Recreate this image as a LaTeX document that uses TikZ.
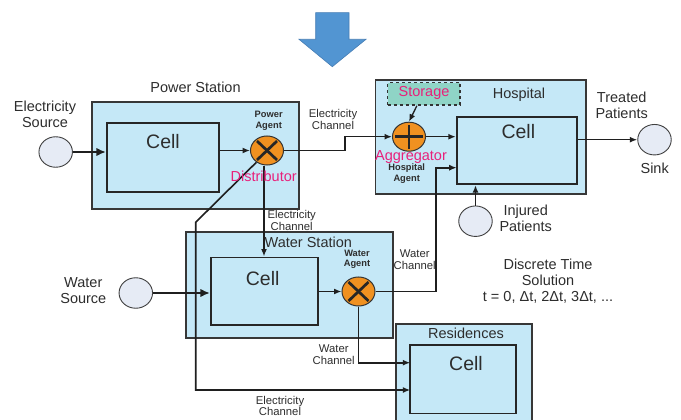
\documentclass[tikz,border=0pt]{standalone}
\usepackage{fontspec}
\setmainfont{Liberation Sans}
\usetikzlibrary{shapes.geometric,arrows.meta,calc}
\definecolor{boxblue}{RGB}{197,232,247}
\definecolor{srcfill}{RGB}{230,235,245}
\definecolor{agorange}{RGB}{240,145,32}
\definecolor{pinktxt}{RGB}{232,32,122}
\definecolor{teal}{RGB}{143,212,198}
\definecolor{arrowblue}{RGB}{82,149,210}
\definecolor{arrowedge}{RGB}{70,125,180}
\definecolor{txt}{RGB}{45,45,45}
\definecolor{edge}{RGB}{55,55,55}
\begin{document}
\begin{tikzpicture}[x=1pt,y=-1pt,
  outerbox/.style={draw=edge,fill=boxblue,line width=1.7pt,inner sep=0,rectangle},
  cellbox/.style={draw=black!85,fill=boxblue,line width=1.7pt,inner sep=0,rectangle},
  srcnode/.style={ellipse,draw=black!75,fill=srcfill,line width=0.9pt,inner sep=0,minimum width=33.5pt,minimum height=30.5pt},
  agentnode/.style={ellipse,draw=black!80,fill=agorange,line width=1pt,inner sep=0,minimum width=33pt,minimum height=29pt},
  xagent/.style={agentnode,path picture={
     \draw[line width=2.7pt,black!85] ([shift={(-10pt,-9.5pt)}]path picture bounding box.center) -- ([shift={(10pt,9.5pt)}]path picture bounding box.center);
     \draw[line width=2.7pt,black!85] ([shift={(-10pt,9.5pt)}]path picture bounding box.center) -- ([shift={(10pt,-9.5pt)}]path picture bounding box.center);}},
  plusagent/.style={agentnode,path picture={
     \draw[line width=2.7pt,black!85] ([shift={(-14pt,0pt)}]path picture bounding box.center) -- ([shift={(14pt,0pt)}]path picture bounding box.center);
     \draw[line width=2.7pt,black!85] ([shift={(0pt,-12pt)}]path picture bounding box.center) -- ([shift={(0pt,12pt)}]path picture bounding box.center);}},
  arr/.style={draw=black!88,line width=1.6pt,-{Latex[length=7.5pt,width=6pt]}},
  bigarr/.style={draw=black!88,line width=2.2pt,-{Latex[length=9.5pt,width=8.5pt]}},
  lbl/.style={font=\fontsize{14.5}{16}\selectfont,text=txt,align=center,inner sep=0},
  celllbl/.style={font=\fontsize{19.5}{22}\selectfont,text=txt,inner sep=0},
  chlbl/.style={font=\fontsize{11.3}{11.7}\selectfont,text=txt,align=center,inner sep=0},
  aglbl/.style={font=\fontsize{9.3}{10.5}\selectfont\bfseries,text=txt,align=center,inner sep=0},
  pinklbl/.style={font=\fontsize{14.5}{16}\selectfont,text=pinktxt,inner sep=0}
]
\path[use as bounding box] (0,0) rectangle (681,420);
\clip (0,0) rectangle (681,420);

% big blue arrow
\draw[fill=arrowblue,draw=arrowedge,line width=0.6pt,line join=miter]
  (315.7,12.7) -- (349,12.7) -- (349,39.3) -- (366,39.3) -- (332.3,66.7)
  -- (299,39.3) -- (315.7,39.3) -- cycle;

% boxes
\node[outerbox,minimum width=206.4pt,minimum height=106.4pt] (ps) at (195.5,155.5) {};
\node[cellbox,minimum width=112.3pt,minimum height=69pt] (pc) at (162.9,157.8) {};
\node[outerbox,minimum width=210.9pt,minimum height=114.2pt] (hs) at (480.8,137.1) {};
\node[cellbox,minimum width=120.6pt,minimum height=67.6pt] (hc) at (517,150.5) {};
\node[draw=black!80,dashed,line width=1.3pt,fill=teal,inner sep=0,minimum width=72.3pt,minimum height=22.3pt] (st) at (423.9,93.9) {};
\node[outerbox,minimum width=207pt,minimum height=106.6pt] (wst) at (289.5,285) {};
\node[cellbox,minimum width=107.3pt,minimum height=67.7pt] (wc) at (264.4,291.2) {};
\node[outerbox,minimum width=135.4pt,minimum height=110pt] (rs) at (464,379) {};
\node[cellbox,minimum width=105.4pt,minimum height=68.3pt] (rc) at (463,379.2) {};

% sources, sink
\node[srcnode] (es) at (55.7,152) {};
\node[srcnode] (ws) at (135.8,293) {};
\node[srcnode] (sk) at (654.5,139.7) {};
\node[srcnode] (ip) at (475.5,221.2) {};

% agents
\node[xagent] (pa) at (267,150.5) {};
\node[plusagent] (ag) at (409,136.7) {};
\node[xagent] (wa) at (358.5,291.5) {};

% helper coordinates
\coordinate (bend) at (195.7,222.3);
\coordinate (r1) at (410.3,362.7);
\coordinate (r2) at (410.3,390);
\coordinate (h2) at (456.7,167.7);

% connectors
\draw[bigarr] (es.east) -- (es.east -| pc.west);
\draw[arr] (pc.east |- pa) -- (pa.west);
\draw[arr] (pa.east) -- ++(61,0) |- (ag.west);
\draw[arr,line width=1.3pt] ([xshift=-7pt]st.south) -- (ag.north);
\draw[arr] (ag.east) -- (ag.east -| hc.west);
\draw[arr] (hc.east |- sk) -- (sk.west);
\draw[arr] (ip.north) -- (ip.north |- hc.south);
\draw[arr] ([xshift=-3pt]pa.south) -- ([xshift=-3pt]pa.south |- wc.north);
\draw[arr] (pa.228) -- (bend) |- (r2);
\draw[bigarr] (ws.east) -- (ws.east -| wc.west);
\draw[arr] (wc.east |- wa) -- (wa.west);
\draw[arr] (wa.east) -| ($(h2)+(-20.7,0)$) -- (h2);
\draw[arr] (wa.south) |- (r1);

% labels
\node[lbl] (lps) at (195.5,87.3) {Power Station};
\node[lbl] (les) at (45,114.7) {Electricity\\Source};
\node[celllbl] (lpc) at (163,141.7) {Cell};
\node[aglbl] (lpa) at (268.7,120.7) {Power\\Agent};
\node[pinklbl] (ldist) at (263.7,176.7) {Distributor};
\node[chlbl] (lec1) at (333,119.2) {Electricity\\Channel};
\node[pinklbl] (lst) at (424,93.3) {Storage};
\node[lbl] (lhs) at (519,95) {Hospital};
\node[pinklbl] (lagg) at (411,157.3) {Aggregator};
\node[aglbl] (lha) at (406.7,173.7) {Hospital\\Agent};
\node[celllbl] (lhc) at (518.3,131.7) {Cell};
\node[lbl] (ltp) at (621.7,105.3) {Treated\\Patients};
\node[lbl] (lsk) at (654.7,168.3) {Sink};
\node[lbl] (lip) at (525.7,218.3) {Injured\\Patients};
\node[chlbl] (lec2) at (291.7,220.5) {Electricity\\Channel};
\node[lbl] (lws) at (308.3,242.7) {Water Station};
\node[aglbl] (lwa) at (357,259.5) {Water\\Agent};
\node[celllbl] (lwc) at (262.7,279) {Cell};
\node[lbl] (lwsrc) at (83.3,290.5) {Water\\Source};
\node[chlbl] (lwc1) at (414.7,259.8) {Water\\Channel};
\node[chlbl] (lwc2) at (333.7,354.7) {Water\\Channel};
\node[lbl] (lres) at (466,333.3) {Residences};
\node[celllbl] (lrc) at (466,363.3) {Cell};
\node[chlbl] (lec3) at (280,406) {Electricity\\Channel};
\node[lbl] (ldt) at (548,280.8) {Discrete Time\\Solution\\t = 0, Δt, 2Δt, 3Δt, ...};
\end{tikzpicture}
\end{document}
